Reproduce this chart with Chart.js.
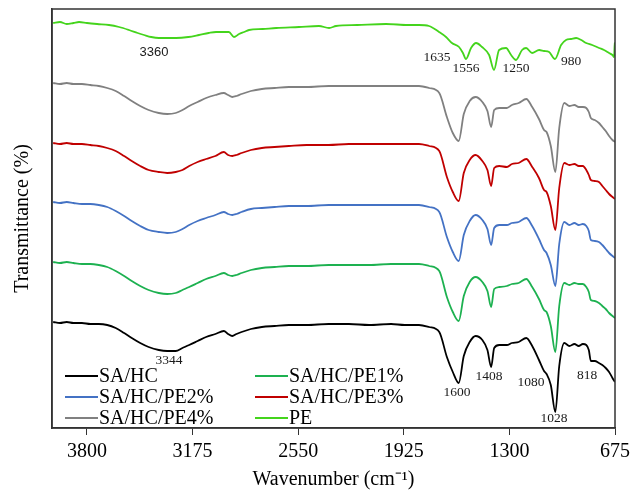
<!DOCTYPE html>
<html>
<head>
<meta charset="utf-8">
<script src="https://cdn.jsdelivr.net/npm/chart.js@4.4.1/dist/chart.umd.min.js"></script>
<style>
  html, body { margin: 0; padding: 0; background: #fff; }
</style>
</head>
<body>
<canvas id="ftir" width="642" height="494"></canvas>
<script>
// wavenumbers (cm-1) shared by the SA/HC films
const wn = [4000, 3960, 3920, 3880, 3830, 3780, 3730, 3680, 3630, 3580,
  3535, 3485, 3435, 3375, 3325, 3275, 3235, 3195, 3145, 3095,
  3040, 2990, 2965, 2940, 2915, 2885, 2830, 2765, 2690, 2605,
  2500, 2370, 2250, 2130, 2000, 1920, 1835, 1775, 1715, 1670,
  1635, 1600, 1570, 1535, 1500, 1460, 1430, 1408, 1390, 1360,
  1315, 1285, 1245, 1200, 1165, 1125, 1095, 1080, 1055, 1028,
  1005, 975, 945, 915, 890, 865, 845, 830, 818, 795,
  770, 750, 730, 710, 690, 675];

// transmittance (stacked, arbitrary units)
const saHC = [106, 105, 106, 105, 105, 104, 104, 103, 100, 95,
  90, 85, 81, 78, 77, 77, 80, 83, 87, 91,
  94, 97, 94, 92, 94, 96, 99, 101, 102, 103,
  103, 104, 104, 103, 104, 103, 103, 101, 96, 71,
  56, 45, 72, 86, 92, 88, 78, 61, 80, 83,
  83, 85, 86, 90, 82, 68, 57, 54, 43, 16,
  62, 85, 82, 84, 82, 84, 83, 78, 67, 67,
  65, 63, 60, 56, 50, 46];

const pe1 = [166, 165, 166, 165, 164, 164, 163, 161, 157, 152,
  147, 142, 138, 135, 134, 135, 138, 141, 145, 149,
  152, 155, 153, 152, 153, 155, 158, 160, 161, 162,
  162, 163, 163, 163, 164, 164, 164, 162, 157, 131,
  116, 107, 132, 146, 151, 146, 137, 121, 139, 141,
  142, 144, 145, 149, 141, 129, 118, 116, 102, 76,
  122, 145, 143, 145, 144, 144, 141, 136, 128, 127,
  125, 122, 119, 115, 112, 110];

const pe2 = [226, 225, 226, 225, 224, 224, 223, 221, 217, 212,
  207, 202, 198, 196, 195, 196, 199, 203, 207, 210,
  213, 216, 214, 213, 214, 216, 219, 220, 221, 222,
  222, 223, 223, 223, 223, 223, 223, 221, 216, 191,
  176, 167, 193, 207, 213, 208, 199, 183, 200, 203,
  203, 205, 206, 210, 202, 189, 178, 175, 163, 142,
  184, 206, 203, 205, 203, 204, 202, 197, 188, 187,
  186, 183, 179, 175, 172, 170];

const pe3 = [285, 284, 285, 284, 284, 283, 282, 280, 277, 272,
  267, 262, 258, 256, 255, 256, 258, 262, 266, 269,
  272, 276, 273, 272, 273, 275, 278, 280, 281, 282,
  283, 283, 284, 284, 284, 284, 284, 282, 277, 251,
  236, 227, 255, 268, 273, 267, 258, 242, 260, 262,
  261, 264, 265, 269, 261, 250, 238, 236, 222, 198,
  240, 265, 263, 264, 262, 262, 258, 253, 248, 247,
  246, 242, 238, 234, 231, 229];

const pe4 = [345, 344, 345, 344, 344, 343, 342, 340, 337, 332,
  327, 322, 318, 315, 314, 315, 318, 322, 326, 330,
  333, 335, 333, 331, 332, 334, 337, 339, 340, 341,
  341, 342, 342, 342, 342, 342, 342, 340, 335, 311,
  295, 287, 314, 327, 331, 326, 317, 301, 318, 320,
  320, 323, 325, 329, 321, 309, 298, 296, 282, 256,
  300, 325, 322, 323, 321, 321, 320, 316, 310, 308,
  305, 301, 297, 292, 288, 286];

// pure PE extract has its own sampling
const peWn = [4000, 3960, 3920, 3880, 3847, 3800, 3740, 3670, 3610, 3551,
  3500, 3462, 3420, 3374, 3320, 3273, 3200, 3137, 3080, 3036,
  2990, 2960, 2930, 2900, 2870, 2841, 2760, 2680, 2545, 2427,
  2367, 2326, 2200, 2030, 1900, 1835, 1776, 1716, 1675, 1640,
  1598, 1575, 1557, 1527, 1497, 1462, 1420, 1391, 1361, 1320,
  1290, 1261, 1225, 1201, 1166, 1124, 1095, 1065, 1030, 994,
  965, 935, 905, 875, 846, 810, 769, 740, 710, 690,
  680, 677, 675];
const pe = [405, 406, 404, 405, 406, 405, 404, 403, 401, 398,
  395, 393, 391, 390, 390, 390, 391, 393, 395, 396,
  396, 396, 391, 394, 396, 398, 399, 400, 401, 402,
  400, 402, 403, 404, 403, 403, 402, 396, 391, 385,
  381, 375, 369, 380, 385, 381, 373, 358, 378, 380,
  373, 368, 378, 380, 375, 378, 377, 376, 369, 383,
  388, 389, 390, 388, 385, 383, 380, 378, 375, 373,
  371, 385, 372];

const xTicks = [3800, 3175, 2550, 1925, 1300, 675];

// peak labels: text, wavenumber, transmittance where the label sits
const peakText = ["3360", "1635", "1556", "1250", "980", "3344", "1600", "1408", "1080", "1028", "818"];
const peakWn = [3403, 1728, 1557, 1261, 935, 3314, 1610, 1420, 1172, 1036, 840];
const peakT = [376, 371, 360, 360, 367, 68, 36, 52, 46, 10, 53];

const SERIF = "'Liberation Serif', 'Times New Roman', serif";

function pts(xs, ys) {
  return xs.map((x, i) => ({ x: x, y: ys[i] }));
}

function line(label, xs, ys, color) {
  return {
    label: label,
    data: pts(xs, ys),
    borderColor: color,
    backgroundColor: color,
    borderWidth: 1.8,
    pointRadius: 0,
    cubicInterpolationMode: "monotone",
    fill: false,
  };
}

// frame on top and right of the plot
const frame = {
  id: "frame",
  afterDraw(chart) {
    const { ctx, chartArea: a } = chart;
    ctx.save();
    ctx.strokeStyle = "#333";
    ctx.lineWidth = 1.5;
    ctx.strokeRect(a.left, a.top, a.right - a.left, a.bottom - a.top);
    ctx.restore();
  },
};

// peak numbers
const peaks = {
  id: "peaks",
  afterDatasetsDraw(chart) {
    const { ctx, scales } = chart;
    ctx.save();
    ctx.textAlign = "center";
    ctx.textBaseline = "middle";
    ctx.fillStyle = "#1a1a1a";
    peakText.forEach((t, i) => {
      ctx.font = t === "3360" ? "13px 'Liberation Sans', Arial, sans-serif" : "13.5px " + SERIF;
      ctx.fillText(t, scales.x.getPixelForValue(peakWn[i]), scales.y.getPixelForValue(peakT[i]));
    });
    ctx.restore();
  },
};

// legend inside the plot, two columns
const legendBox = {
  id: "legendBox",
  afterDraw(chart) {
    const { ctx } = chart;
    const cols = [65, 255];
    const rows = [376, 397, 418];
    ctx.save();
    ctx.font = "20px " + SERIF;
    ctx.textBaseline = "middle";
    ctx.textAlign = "left";
    chart.data.datasets.forEach((ds, i) => {
      const x = cols[i % 2];
      const y = rows[Math.floor(i / 2)];
      ctx.strokeStyle = ds.borderColor;
      ctx.lineWidth = 2;
      ctx.beginPath();
      ctx.moveTo(x, y);
      ctx.lineTo(x + 33, y);
      ctx.stroke();
      ctx.fillStyle = "#000";
      ctx.fillText(ds.label, x + 34, y + 1);
    });
    ctx.restore();
  },
};

new Chart(document.getElementById("ftir"), {
  type: "line",
  data: {
    datasets: [
      line("SA/HC", wn, saHC, "#000000"),
      line("SA/HC/PE1%", wn, pe1, "#1db150"),
      line("SA/HC/PE2%", wn, pe2, "#4472c4"),
      line("SA/HC/PE3%", wn, pe3, "#c00000"),
      line("SA/HC/PE4%", wn, pe4, "#808080"),
      line("PE", peWn, pe, "#44d41c"),
    ],
  },
  options: {
    responsive: false,
    animation: false,
    layout: { padding: { top: 9, right: 27, left: 0, bottom: 0 } },
    plugins: {
      legend: { display: false },
      tooltip: { enabled: false },
    },
    scales: {
      x: {
        type: "linear",
        reverse: true,
        min: 675,
        max: 4007,
        afterBuildTicks: (s) => {
          s.ticks = xTicks.map((v) => ({ value: v }));
        },
        afterFit: (s) => {
          s.height = 66;
        },
        ticks: {
          color: "#000",
          font: { family: SERIF, size: 20 },
          padding: 5,
          maxRotation: 0,
          autoSkip: false,
          callback: (v) => String(v),
        },
        grid: {
          display: true,
          drawOnChartArea: false,
          drawTicks: true,
          tickLength: 7,
          color: "#333",
        },
        border: { display: true, color: "#333", width: 1.5 },
        title: {
          display: true,
          text: "Wavenumber (cm\u207B\u00B9)",
          color: "#000",
          font: { family: SERIF, size: 20 },
          padding: { top: 2, bottom: 2 },
        },
      },
      y: {
        min: 0,
        max: 419,
        afterFit: (s) => {
          s.width = 52;
        },
        ticks: { display: false },
        grid: { display: false },
        border: { display: true, color: "#333", width: 1.5 },
        title: {
          display: true,
          text: "Transmittance (%)",
          color: "#000",
          font: { family: SERIF, size: 20 },
          padding: { top: 11, bottom: 0 },
        },
      },
    },
  },
  plugins: [frame, peaks, legendBox],
});
</script>
</body>
</html>
